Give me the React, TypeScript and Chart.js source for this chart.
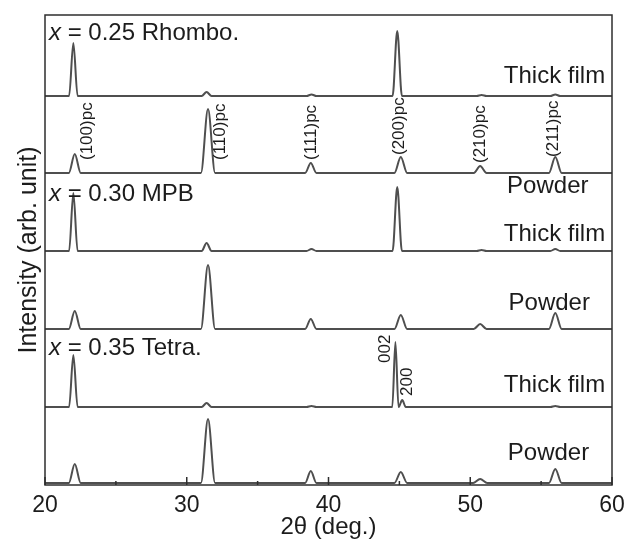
import React, { useEffect, useRef } from "react";
import { Chart, registerables } from "chart.js";

Chart.register(...registerables);

// ---------- data ----------
const X_MIN = 20;
const X_MAX = 60;
const Y_MIN = 0;
const Y_MAX = 470;
const majorTicks = [20, 30, 40, 50, 60];
const minorTicks = [25, 35, 45, 55];

const seriesNames = [
  "x = 0.25 Thick film",
  "x = 0.25 Powder",
  "x = 0.30 Thick film",
  "x = 0.30 Powder",
  "x = 0.35 Thick film",
  "x = 0.35 Powder",
];
// vertical offset of each trace (arb. unit)
const baselines = [389, 312, 234, 156, 78, 2];

// peak positions (2θ), intensities (arb.), half-widths (deg)
const rhomboFilmPos = [22.0, 31.4, 38.8, 44.85, 50.8, 56.0];
const rhomboFilmInt = [53, 4, 1.5, 65, 1, 1.5];
const rhomboFilmWid = [0.3, 0.35, 0.35, 0.33, 0.35, 0.35];

const rhomboPowderPos = [22.1, 31.5, 38.75, 45.1, 50.7, 56.0];
const rhomboPowderInt = [19, 64, 10, 16, 7, 16];
const rhomboPowderWid = [0.42, 0.5, 0.4, 0.45, 0.45, 0.45];

const mpbFilmPos = [22.0, 31.4, 38.8, 44.85, 50.8, 56.0];
const mpbFilmInt = [58, 8, 2, 64, 1, 2];
const mpbFilmWid = [0.3, 0.35, 0.35, 0.33, 0.35, 0.35];

const mpbPowderPos = [22.1, 31.5, 38.75, 45.1, 50.7, 56.0];
const mpbPowderInt = [18, 64, 10, 14, 5, 16];
const mpbPowderWid = [0.42, 0.5, 0.4, 0.45, 0.45, 0.45];

const tetraFilmPos = [22.0, 31.4, 38.8, 44.72, 45.2, 56.0];
const tetraFilmInt = [52, 4, 1, 65, 7, 1];
const tetraFilmWid = [0.3, 0.35, 0.35, 0.22, 0.25, 0.35];

const tetraPowderPos = [22.1, 31.5, 38.75, 45.1, 50.7, 56.0];
const tetraPowderInt = [19, 64, 12, 11, 4, 14];
const tetraPowderWid = [0.42, 0.5, 0.4, 0.45, 0.5, 0.45];

const seriesPos = [rhomboFilmPos, rhomboPowderPos, mpbFilmPos, mpbPowderPos, tetraFilmPos, tetraPowderPos];
const seriesInt = [rhomboFilmInt, rhomboPowderInt, mpbFilmInt, mpbPowderInt, tetraFilmInt, tetraPowderInt];
const seriesWid = [rhomboFilmWid, rhomboPowderWid, mpbFilmWid, mpbPowderWid, tetraFilmWid, tetraPowderWid];

// composition labels
const compItalic = ["x", "x", "x"];
const compText = [" = 0.25 Rhombo.", " = 0.30 MPB", " = 0.35 Tetra."];
const compX = [20.28, 20.28, 20.28];
const compY = [445, 284, 130];

const filmLabelX = [59.52, 59.52, 59.52];
const filmLabelY = [402, 244, 93];
const powderLabelX = [52.6, 52.7, 52.65];
const powderLabelY = [292, 175, 25];

const hklLabels = ["(100)pc", "(110)pc", "(111)pc", "(200)pc", "(210)pc", "(211)pc"];
const hklX = [22.96, 32.35, 38.77, 44.98, 50.7, 55.85];
const hklY = [325, 325, 325, 330, 322, 328];

const tetraLabels = ["002", "200"];
const tetraLabelX = [44.0, 45.55];
const tetraLabelY = [122, 89];

// ---------- helpers ----------
function buildSeries(i: number) {
  const b = baselines[i];
  const pts: { x: number; y: number }[] = [{ x: X_MIN, y: b }];
  const pos = seriesPos[i];
  for (let k = 0; k < pos.length; k++) {
    const w = seriesWid[i][k];
    pts.push({ x: pos[k] - w, y: b });
    pts.push({ x: pos[k], y: b + seriesInt[i][k] });
    pts.push({ x: pos[k] + w, y: b });
  }
  pts.push({ x: X_MAX, y: b });
  return pts;
}

const FONT = "'Liberation Sans', Arial, sans-serif";
const TEXT_COLOR = "#1c1c1c";
const LINE_COLOR = "#4f4f4f";
const FRAME_COLOR = "#2e2e2e";

const decorPlugin = {
  id: "decor",
  afterDatasetsDraw(chart: any) {
    const { ctx, chartArea, scales } = chart;
    const xs = scales.x;
    const ys = scales.y;
    ctx.save();
    // frame
    ctx.strokeStyle = FRAME_COLOR;
    ctx.lineWidth = 1.5;
    ctx.strokeRect(chartArea.left, chartArea.top, chartArea.right - chartArea.left, chartArea.bottom - chartArea.top);
    // inward ticks on bottom axis
    ctx.beginPath();
    majorTicks.forEach((v) => {
      const px = xs.getPixelForValue(v);
      ctx.moveTo(px, chartArea.bottom);
      ctx.lineTo(px, chartArea.bottom - 8);
    });
    minorTicks.forEach((v) => {
      const px = xs.getPixelForValue(v);
      ctx.moveTo(px, chartArea.bottom);
      ctx.lineTo(px, chartArea.bottom - 4);
    });
    ctx.stroke();

    ctx.fillStyle = TEXT_COLOR;
    ctx.textBaseline = "alphabetic";
    // composition labels
    for (let i = 0; i < compText.length; i++) {
      const px = xs.getPixelForValue(compX[i]);
      const py = ys.getPixelForValue(compY[i]);
      ctx.font = `italic 24px ${FONT}`;
      ctx.textAlign = "left";
      ctx.fillText(compItalic[i], px, py);
      const w = ctx.measureText(compItalic[i]).width;
      ctx.font = `24px ${FONT}`;
      ctx.fillText(compText[i], px + w, py);
    }
    // Thick film / Powder
    ctx.font = `24px ${FONT}`;
    for (let i = 0; i < filmLabelX.length; i++) {
      ctx.textAlign = "right";
      ctx.fillText("Thick film", xs.getPixelForValue(filmLabelX[i]), ys.getPixelForValue(filmLabelY[i]));
      ctx.textAlign = "left";
      ctx.fillText("Powder", xs.getPixelForValue(powderLabelX[i]), ys.getPixelForValue(powderLabelY[i]));
    }
    // rotated hkl labels
    ctx.font = `17px ${FONT}`;
    ctx.textAlign = "left";
    ctx.textBaseline = "middle";
    const drawRot = (t: string, x: number, y: number) => {
      ctx.save();
      ctx.translate(xs.getPixelForValue(x), ys.getPixelForValue(y));
      ctx.rotate(-Math.PI / 2);
      ctx.fillText(t, 0, 0);
      ctx.restore();
    };
    hklLabels.forEach((t, i) => drawRot(t, hklX[i], hklY[i]));
    tetraLabels.forEach((t, i) => drawRot(t, tetraLabelX[i], tetraLabelY[i]));
    ctx.restore();
  },
};

export default function App() {
  const ref = useRef<HTMLCanvasElement | null>(null);
  useEffect(() => {
    if (!ref.current) return;
    const chart = new Chart(ref.current, {
      type: "line",
      data: {
        datasets: seriesNames.map((name, i) => ({
          label: name,
          data: buildSeries(i),
          borderColor: LINE_COLOR,
          borderWidth: 2,
          pointRadius: 0,
          fill: false,
          cubicInterpolationMode: "monotone" as const,
        })),
      },
      options: {
        responsive: false,
        animation: false,
        layout: { padding: { top: 15, right: 14, left: 0, bottom: 0 } },
        plugins: { legend: { display: false }, tooltip: { enabled: false } },
        scales: {
          x: {
            type: "linear",
            min: X_MIN,
            max: X_MAX,
            grid: { display: false, drawTicks: false },
            border: { display: false },
            afterFit: (s: any) => {
              s.height = 57;
              s.paddingLeft = 0;
              s.paddingRight = 0;
            },
            afterBuildTicks: (s: any) => {
              s.ticks = majorTicks.map((v) => ({ value: v }));
            },
            ticks: {
              padding: 7,
              color: TEXT_COLOR,
              font: { family: FONT, size: 23 },
              maxRotation: 0,
            },
            title: {
              display: true,
              text: "2θ (deg.)",
              color: TEXT_COLOR,
              font: { family: FONT, size: 24 },
              padding: { top: 0, bottom: 0 },
            },
          },
          y: {
            type: "linear",
            min: Y_MIN,
            max: Y_MAX,
            grid: { display: false, drawTicks: false },
            border: { display: false },
            ticks: { display: false },
            afterFit: (s: any) => {
              s.width = 45;
              s.paddingTop = 0;
              s.paddingBottom = 0;
            },
            title: {
              display: true,
              text: "Intensity (arb. unit)",
              color: TEXT_COLOR,
              font: { family: FONT, size: 25 },
              padding: { top: 14, bottom: 0 },
            },
          },
        },
      },
      plugins: [decorPlugin],
    });
    return () => chart.destroy();
  }, []);
  return (
    <div style={{ position: "absolute", left: 0, top: 0, width: 626, height: 542, background: "#fff" }}>
      <canvas ref={ref} width={626} height={542} />
    </div>
  );
}
